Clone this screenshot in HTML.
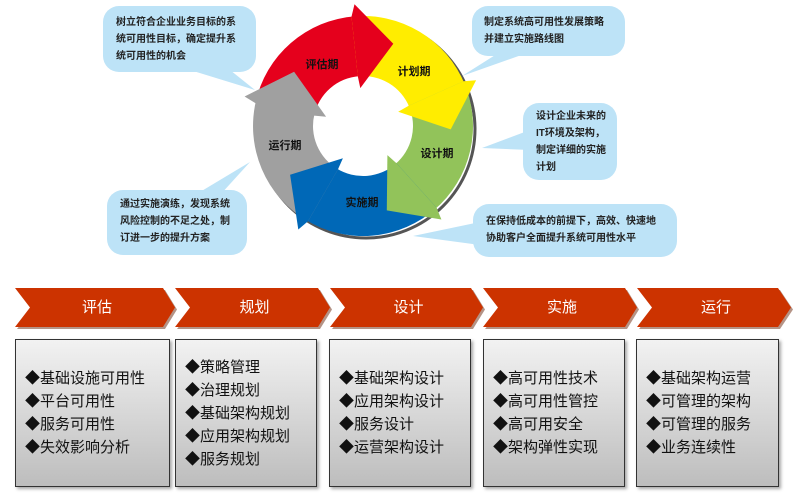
<!DOCTYPE html>
<html><head><meta charset="utf-8">
<style>
body{margin:0;width:794px;height:494px;background:#fff;position:relative;overflow:hidden;font-family:"Liberation Sans","Noto Sans CJK SC",sans-serif}
.b{position:absolute;background:#bde3f7;border-radius:16px;font-size:10px;color:#222;line-height:17px;font-weight:bold;box-sizing:border-box}
.cv{position:absolute;top:288px;height:39px;color:#fff;font-size:15px;line-height:39px;text-align:center}
.bx{position:absolute;top:339px;height:148px;box-sizing:border-box;border:1px solid #333;background:linear-gradient(#f2f2f2,#bdbdbd);box-shadow:2px 2px 3px rgba(0,0,0,.35);font-size:15px;line-height:23px;color:#111;display:flex;flex-direction:column;justify-content:center;padding-left:9px}
</style></head><body>
<svg width="794" height="494" style="position:absolute;left:0;top:0">
<path d="M190 70 L255 90 L230 70Z" fill="#bde3f7"/>
<path d="M195 195 L250 162 L220 195Z" fill="#bde3f7"/>
<path d="M500 52 L462 76 L530 52Z" fill="#bde3f7"/>
<path d="M530 130 L482 148 L530 150Z" fill="#bde3f7"/>
<path d="M480 222 L413 236 L480 245Z" fill="#bde3f7"/>
<g id="ring"></g>
<g fill="#6b2a10" opacity="0.5">
<path d="M17 290 H165 L177 309.5 L165 329 H17 L32 309.5Z"/>
<path d="M177 290 H320 L332 309.5 L320 329 H177 L192 309.5Z"/>
<path d="M332 290 H473 L485 309.5 L473 329 H332 L347 309.5Z"/>
<path d="M485 290 H627 L639 309.5 L627 329 H485 L500 309.5Z"/>
<path d="M639 290 H780 L793 309.5 L780 329 H639 L654 309.5Z"/>
</g>
<g fill="#cc3300">
<path d="M15 288 H163 L175 307.5 L163 327 H15 L30 307.5Z"/>
<path d="M175 288 H318 L330 307.5 L318 327 H175 L190 307.5Z"/>
<path d="M330 288 H471 L483 307.5 L471 327 H330 L345 307.5Z"/>
<path d="M483 288 H625 L637 307.5 L625 327 H483 L498 307.5Z"/>
<path d="M637 288 H778 L791 307.5 L778 327 H637 L652 307.5Z"/>
</g>
<g font-size="11" font-weight="bold" fill="#111" text-anchor="middle">
<text x="322" y="68">评估期</text>
<text x="414" y="75">计划期</text>
<text x="437" y="157">设计期</text>
<text x="362" y="206">实施期</text>
<text x="285" y="149">运行期</text>
</g>
</svg>
<div class="b" style="left:103px;top:6px;width:153px;height:66px;padding:8px 0 0 13px">树立符合企业业务目标的系<br>统可用性目标，确定提升系<br>统可用性的机会</div>
<div class="b" style="left:107px;top:190px;width:140px;height:65px;padding:6px 0 0 13px">通过实施演练，发现系统<br>风险控制的不足之处，制<br>订进一步的提升方案</div>
<div class="b" style="left:472px;top:6px;width:153px;height:50px;padding:8px 0 0 12px">制定系统高可用性发展策略<br>并建立实施路线图</div>
<div class="b" style="left:523px;top:103px;width:94px;height:77px;padding:5px 0 0 13px">设计企业未来的<br>IT环境及架构，<br>制定详细的实施<br>计划</div>
<div class="b" style="left:473px;top:204px;width:204px;height:53px;padding:9px 0 0 13px">在保持低成本的前提下，高效、快速地<br>协助客户全面提升系统可用性水平</div>
<div class="cv" style="left:22px;width:150px">评估</div>
<div class="cv" style="left:182px;width:145px">规划</div>
<div class="cv" style="left:337px;width:143px">设计</div>
<div class="cv" style="left:490px;width:144px">实施</div>
<div class="cv" style="left:644px;width:144px">运行</div>
<div class="bx" style="left:15px;width:155px">◆基础设施可用性<br>◆平台可用性<br>◆服务可用性<br>◆失效影响分析</div>
<div class="bx" style="left:175px;width:142px">◆策略管理<br>◆治理规划<br>◆基础架构规划<br>◆应用架构规划<br>◆服务规划</div>
<div class="bx" style="left:329px;width:142px">◆基础架构设计<br>◆应用架构设计<br>◆服务设计<br>◆运营架构设计</div>
<div class="bx" style="left:483px;width:142px">◆高可用性技术<br>◆高可用性管控<br>◆高可用安全<br>◆架构弹性实现</div>
<div class="bx" style="left:636px;width:143px">◆基础架构运营<br>◆可管理的架构<br>◆可管理的服务<br>◆业务连续性</div>
<script>
(function(){
var cx=363,cy=126,R=110,r=50;
function XY(a,rad){var t=(a-90)*Math.PI/180;return [cx+rad*Math.cos(t),cy+rad*Math.sin(t)];}
function P(a,rad){var p=XY(a,rad);return p[0].toFixed(1)+' '+p[1].toFixed(1);}
var tips=[16,88,160,232,304],cols=['#e5001c','#ffed00','#92c35a','#0068b7','#a0a0a0'];
var bands='',heads='';
for(var i=0;i<5;i++){
 var tip=tips[i],e=tip-20,s=tips[(i+4)%5]-22;
 if(s>e)s-=360;
 bands+='<path d="M'+P(s,R)+' A'+R+' '+R+' 0 0 1 '+P(e,R)+' L'+P(e,r)+' A'+r+' '+r+' 0 0 0 '+P(s,r)+'Z" fill="'+cols[i]+'"/>';
 /* arrowhead: base radial line at e, tip tangential */
 var b1=XY(e,R+12),b2=XY(e,r-12),m=XY(e,80);
 var t=(e-90)*Math.PI/180;
 var tx=-Math.sin(t),ty=Math.cos(t); /* clockwise tangent */
 var tp=[m[0]+tx*36,m[1]+ty*36];
 heads+='<path d="M'+b1[0].toFixed(1)+' '+b1[1].toFixed(1)+' L'+tp[0].toFixed(1)+' '+tp[1].toFixed(1)+' L'+b2[0].toFixed(1)+' '+b2[1].toFixed(1)+' L'+P(e-2,r)+' L'+P(e-2,R)+'Z" fill="'+cols[i]+'"/>';
}
var sh='<circle cx="'+(cx+3)+'" cy="'+(cy+3)+'" r="'+(R-1)+'" fill="none" stroke="#555" stroke-width="3"/>';
document.getElementById('ring').innerHTML=sh+bands+heads;
})();
</script>
</body></html>
